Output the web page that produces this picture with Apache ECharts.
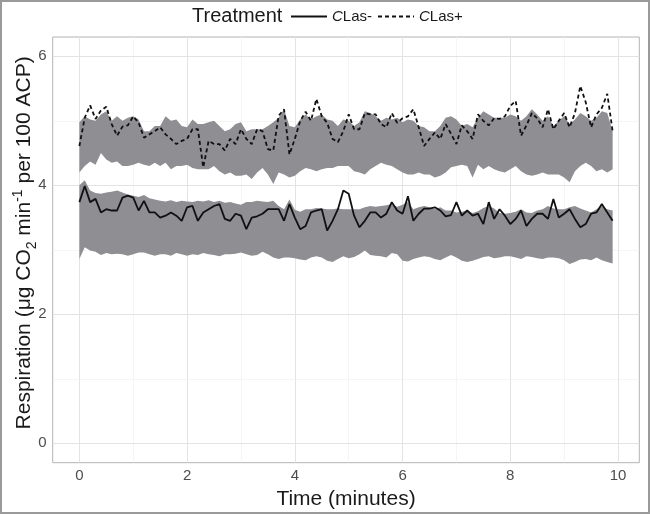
<!DOCTYPE html>
<html><head><meta charset="utf-8">
<script src="https://cdn.jsdelivr.net/npm/echarts@6/dist/echarts.min.js"></script>
<style>
html,body{margin:0;padding:0;background:#fff}
#c{position:absolute;left:0;top:0;width:650px;height:514px}
#frame{position:absolute;left:0;top:0;width:650px;height:514px;box-sizing:border-box;border:2px solid #9a9a9a;pointer-events:none}
</style>
</head><body><div id="c"></div><div id="frame"></div>
<script>
const time = [0.0,0.1,0.2,0.3,0.4,0.5,0.6,0.7,0.8,0.9,1.0,1.1,1.2,1.3,1.4,1.5,1.6,1.7,1.8,1.9,2.0,2.1,2.2,2.3,2.4,2.5,2.6,2.7,2.8,2.9,3.0,3.1,3.2,3.3,3.4,3.5,3.6,3.7,3.8,3.9,4.0,4.1,4.2,4.3,4.4,4.5,4.6,4.7,4.8,4.9,5.0,5.1,5.2,5.3,5.4,5.5,5.6,5.7,5.8,5.9,6.0,6.1,6.2,6.3,6.4,6.5,6.6,6.7,6.8,6.9,7.0,7.1,7.2,7.3,7.4,7.5,7.6,7.7,7.8,7.9,8.0,8.1,8.2,8.3,8.4,8.5,8.6,8.7,8.8,8.9,9.0,9.1,9.2,9.3,9.4,9.5,9.6,9.7,9.8,9.9];

const plusMean = [4.61,5.05,5.24,5.03,5.16,5.22,4.95,4.77,4.91,4.93,
5.07,4.97,4.74,4.79,4.84,4.90,4.79,4.72,4.64,4.69,
4.72,4.87,4.87,4.28,4.69,4.64,4.64,4.54,4.72,4.64,
4.87,4.72,4.64,4.87,4.84,4.56,4.54,5.08,5.18,4.48,
4.72,5.00,5.14,5.00,5.34,5.07,4.97,4.72,4.67,4.84,
5.10,4.87,4.87,5.12,5.10,5.10,4.95,4.90,5.12,4.97,
5.04,5.07,5.18,4.90,4.61,4.72,4.82,4.72,4.95,4.80,
4.64,4.93,4.84,4.72,5.10,5.00,4.93,5.04,5.03,5.07,
5.23,5.31,4.77,4.93,5.12,5.04,4.90,5.18,4.87,5.00,
5.12,4.90,5.12,5.54,5.29,4.90,5.10,5.20,5.42,4.84];

const plusUpper = [4.98,5.07,5.02,5.00,5.10,5.15,5.00,5.07,5.00,5.05,
5.07,5.02,4.84,4.84,4.92,4.92,5.07,5.00,5.02,4.92,
4.90,5.02,4.95,4.95,4.98,5.00,4.92,4.84,4.87,4.95,
4.98,4.84,4.87,4.87,4.87,4.92,4.98,5.05,5.18,4.92,
4.90,5.02,5.10,5.02,5.07,5.10,5.02,5.00,4.92,5.02,
5.00,4.92,4.98,5.15,5.12,5.07,5.00,5.05,5.02,5.05,
4.98,5.02,5.00,4.92,4.90,4.84,4.84,4.92,5.05,5.07,
5.02,4.92,4.95,4.90,5.05,5.15,5.10,5.05,5.05,5.05,
5.10,5.07,5.00,5.07,5.18,5.10,5.00,5.07,4.92,5.00,
5.07,4.95,5.02,5.12,5.07,5.00,5.05,5.15,5.12,4.84];

const plusLower = [4.20,4.30,4.37,4.32,4.50,4.40,4.35,4.37,4.30,4.30,
4.32,4.35,4.32,4.30,4.35,4.30,4.35,4.25,4.30,4.30,
4.32,4.27,4.25,4.25,4.25,4.30,4.22,4.17,4.20,4.15,
4.15,4.17,4.10,4.20,4.27,4.17,4.02,4.20,4.17,4.12,
4.15,4.22,4.27,4.25,4.22,4.25,4.27,4.27,4.30,4.30,
4.30,4.22,4.20,4.17,4.25,4.30,4.35,4.32,4.30,4.25,
4.20,4.17,4.17,4.20,4.17,4.17,4.12,4.15,4.20,4.28,
4.30,4.32,4.30,4.12,4.32,4.25,4.30,4.25,4.22,4.20,
4.25,4.30,4.22,4.17,4.15,4.17,4.20,4.17,4.17,4.17,
4.12,4.05,4.22,4.30,4.35,4.30,4.22,4.25,4.20,4.25];

const minusMean = [3.74,3.99,3.74,3.79,3.58,3.63,3.61,3.61,3.81,3.84,
3.81,3.61,3.76,3.58,3.58,3.50,3.53,3.58,3.53,3.45,
3.66,3.68,3.45,3.58,3.63,3.68,3.71,3.48,3.45,3.56,
3.53,3.32,3.50,3.52,3.56,3.63,3.63,3.63,3.45,3.71,
3.50,3.32,3.37,3.58,3.61,3.63,3.30,3.45,3.63,3.92,
3.87,3.53,3.35,3.45,3.58,3.58,3.50,3.56,3.74,3.61,
3.56,3.83,3.45,3.56,3.64,3.64,3.66,3.61,3.52,3.54,
3.74,3.53,3.61,3.53,3.56,3.40,3.74,3.48,3.63,3.53,
3.40,3.48,3.61,3.37,3.48,3.56,3.56,3.48,3.79,3.50,
3.56,3.63,3.48,3.35,3.40,3.56,3.58,3.71,3.58,3.45];

const minusUpper = [4.00,4.08,3.92,3.88,3.87,3.89,3.90,3.92,3.89,3.86,
3.84,3.82,3.85,3.80,3.78,3.76,3.75,3.77,3.74,3.76,
3.75,3.74,3.76,3.75,3.77,3.74,3.76,3.73,3.74,3.72,
3.70,3.74,3.74,3.76,3.75,3.74,3.76,3.68,3.63,3.78,
3.62,3.59,3.63,3.63,3.65,3.64,3.63,3.63,3.64,3.63,
3.63,3.63,3.63,3.66,3.68,3.67,3.68,3.69,3.71,3.67,
3.70,3.74,3.63,3.66,3.68,3.66,3.63,3.66,3.61,3.61,
3.58,3.59,3.61,3.57,3.60,3.65,3.68,3.64,3.57,3.56,
3.57,3.59,3.63,3.58,3.57,3.61,3.63,3.68,3.64,3.63,
3.63,3.66,3.68,3.64,3.61,3.58,3.63,3.68,3.63,3.61];

const minusLower = [2.86,3.04,2.99,2.97,2.92,2.95,2.93,2.94,2.93,2.91,
2.93,2.96,2.96,2.93,2.91,2.93,2.93,2.91,2.95,2.93,
2.91,2.93,2.92,2.95,2.93,2.92,2.90,2.93,2.93,2.94,
2.96,2.93,2.91,2.92,2.97,2.93,2.88,2.86,2.88,2.88,
2.87,2.85,2.84,2.88,2.90,2.88,2.83,2.81,2.86,2.90,
2.87,2.89,2.93,2.99,2.92,2.91,2.90,2.88,2.95,2.93,
2.83,2.82,2.86,2.88,2.90,2.89,2.86,2.84,2.88,2.92,
2.88,2.83,2.81,2.83,2.86,2.89,2.90,2.87,2.88,2.90,
2.90,2.88,2.86,2.90,2.89,2.87,2.86,2.88,2.88,2.87,
2.84,2.78,2.81,2.85,2.86,2.84,2.88,2.84,2.81,2.79];

const xTicks = [0, 2, 4, 6, 8, 10];
const xMinorGrid = [1, 3, 5, 7, 9];
const yTicks = [0, 2, 4, 6];
const yMinorGrid = [1, 3, 5];
const groupNames = ['CLas-', 'CLas+'];
const legendTitle = 'Treatment';
const xTitle = 'Time (minutes)';

const FONT = 'Liberation Sans, Arial, sans-serif';
const RIBBON = '#8e8e93';
const pairs = a => a.map((v, i) => [time[i], v]);
const rows = (lo, hi) => time.map((t, i) => [t, lo[i], hi[i]]);

const gridLines = [];
xTicks.forEach(v => gridLines.push({xAxis: v, lineStyle: {color: '#e3e3e3', width: 1, type: 'solid'}}));
xMinorGrid.forEach(v => gridLines.push({xAxis: v, lineStyle: {color: '#efefef', width: 0.6, type: 'solid'}}));
yTicks.forEach(v => gridLines.push({yAxis: v, lineStyle: {color: '#e3e3e3', width: 1, type: 'solid'}}));
yMinorGrid.forEach(v => gridLines.push({yAxis: v, lineStyle: {color: '#efefef', width: 0.6, type: 'solid'}}));

function ribbon(name, lo, hi) {
  const data = rows(lo, hi);
  return {
    name: name, type: 'custom', silent: true, z: 3,
    encode: {x: 0, y: [1, 2]},
    data: data,
    renderItem: function (params, api) {
      if (params.dataIndexInside !== 0) return null;
      const top = data.map(r => api.coord([r[0], r[2]]));
      const bot = data.map(r => api.coord([r[0], r[1]])).reverse();
      return {type: 'polygon', shape: {points: top.concat(bot)}, style: {fill: RIBBON, stroke: null}};
    }
  };
}

const chart = echarts.init(document.getElementById('c'), null, {renderer: 'canvas'});

chart.setOption({
  animation: false,
  backgroundColor: '#ffffff',
  textStyle: {fontFamily: FONT},
  title: {
    text: legendTitle, left: 187, top: 1,
    textStyle: {fontSize: 20, fontWeight: 'normal', color: '#1a1a1a', fontFamily: FONT}
  },
  legend: {
    data: groupNames, left: 285, top: 4, itemWidth: 36, itemHeight: 12, itemGap: 5,
    itemStyle: {opacity: 0},
    formatter: n => '{i|C}{n|' + n.slice(1) + '}',
    textStyle: {
      fontSize: 15, color: '#1a1a1a', fontFamily: FONT,
      rich: {i: {fontStyle: 'italic', fontSize: 15, color: '#1a1a1a', fontFamily: FONT},
             n: {fontSize: 15, color: '#1a1a1a', fontFamily: FONT}}
    }
  },
  grid: {
    left: 52.7, right: 10.7, top: 37, bottom: 51.3, containLabel: false, outerBoundsMode: 'none',
    show: true, borderColor: '#b3b3b3', borderWidth: 1, backgroundColor: '#ffffff'
  },
  xAxis: {
    type: 'value', min: -0.495, max: 10.395,
    axisLine: {show: false},
    splitLine: {show: false},
    axisTick: {show: true, customValues: xTicks, length: 4, lineStyle: {color: '#b3b3b3'}},
    axisLabel: {customValues: xTicks, fontSize: 15, color: '#4d4d4d', margin: 6, fontFamily: FONT},
    name: xTitle, nameLocation: 'middle', nameGap: 21,
    nameTextStyle: {fontSize: 21, color: '#1a1a1a', fontFamily: FONT}
  },
  yAxis: {
    type: 'value', min: -0.3, max: 6.3,
    axisLine: {show: false},
    splitLine: {show: false},
    axisTick: {show: true, customValues: yTicks, length: 4, lineStyle: {color: '#b3b3b3'}},
    axisLabel: {customValues: yTicks, fontSize: 15, color: '#4d4d4d', margin: 6, fontFamily: FONT},
    name: '{a|Respiration (\u03bcg CO}{sub|2}{a| min}{sup|-1}{a| per 100 ACP)}',
    nameLocation: 'middle', nameRotate: 90, nameGap: 14, nameMoveOverlap: false,
    nameTextStyle: {
      fontSize: 21, color: '#1a1a1a', fontFamily: FONT, padding: [0, 0, 0, 14],
      rich: {
        a: {fontSize: 21, color: '#1a1a1a', fontFamily: FONT, lineHeight: 28},
        sub: {fontSize: 14, color: '#1a1a1a', fontFamily: FONT, lineHeight: 17, verticalAlign: 'bottom'},
        sup: {fontSize: 14, color: '#1a1a1a', fontFamily: FONT, lineHeight: 14, verticalAlign: 'top'}
      }
    }
  },
  series: [
    {
      name: 'grid', type: 'line', data: [], z: 1, silent: true,
      markLine: {silent: true, symbol: 'none', z: 1, label: {show: false}, animation: false, data: gridLines}
    },
    ribbon('minusBand', minusLower, minusUpper),
    ribbon('plusBand', plusLower, plusUpper),
    {
      name: groupNames[0], type: 'line', data: pairs(minusMean), symbol: 'none', showSymbol: false,
      lineStyle: {color: '#111111', width: 1.8, type: 'solid'}, itemStyle: {color: '#111111'}, z: 4
    },
    {
      name: groupNames[1], type: 'line', data: pairs(plusMean), symbol: 'none', showSymbol: false,
      lineStyle: {color: '#111111', width: 1.8, type: [4, 3]}, itemStyle: {color: '#111111'}, z: 4
    }
  ]
});
</script>
</body></html>
